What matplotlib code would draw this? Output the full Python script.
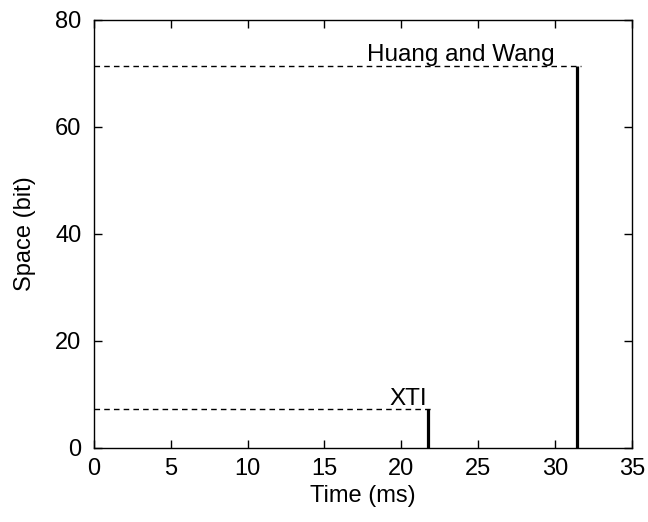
import matplotlib
matplotlib.use('Agg')
import matplotlib.pyplot as plt

# schemes and their cost
schemes = ['XTI', 'Huang and Wang']
time_ms = [21.75, 31.45]
space_bit = [7.2, 71.4]
# right edge of each label (ms)
label_x = [21.7, 30.0]

plt.rcParams['font.family'] = ['Liberation Sans', 'DejaVu Sans']

fig = plt.figure(figsize=(6.48, 5.22), dpi=100)
ax = fig.add_axes([0.145, 0.142, 0.830, 0.820])

for name, t, s, lx in zip(schemes, time_ms, space_bit, label_x):
    ax.vlines(t, 0, s, color='black', linewidth=2.3)
    ax.hlines(s, 0, t + 0.25, color='black', linewidth=1.0,
              linestyles=(0, (4, 3)))
    ax.text(lx, s - 0.1, name, ha='right', va='bottom', fontsize=17.5)

ax.set_xlim(0, 35)
ax.set_ylim(0, 80)
ax.set_xticks(range(0, 36, 5))
ax.set_yticks(range(0, 81, 20))
ax.tick_params(direction='in', top=True, right=True, length=6, width=1,
               labelsize=17)
ax.tick_params(axis='x', pad=7)
ax.tick_params(axis='y', pad=9)
for sp in ax.spines.values():
    sp.set_linewidth(1.0)
ax.set_xlabel('Time (ms)', fontsize=17, labelpad=4)
ax.set_ylabel('Space (bit)', fontsize=17, labelpad=14)

fig.savefig('out.png', dpi=100)
